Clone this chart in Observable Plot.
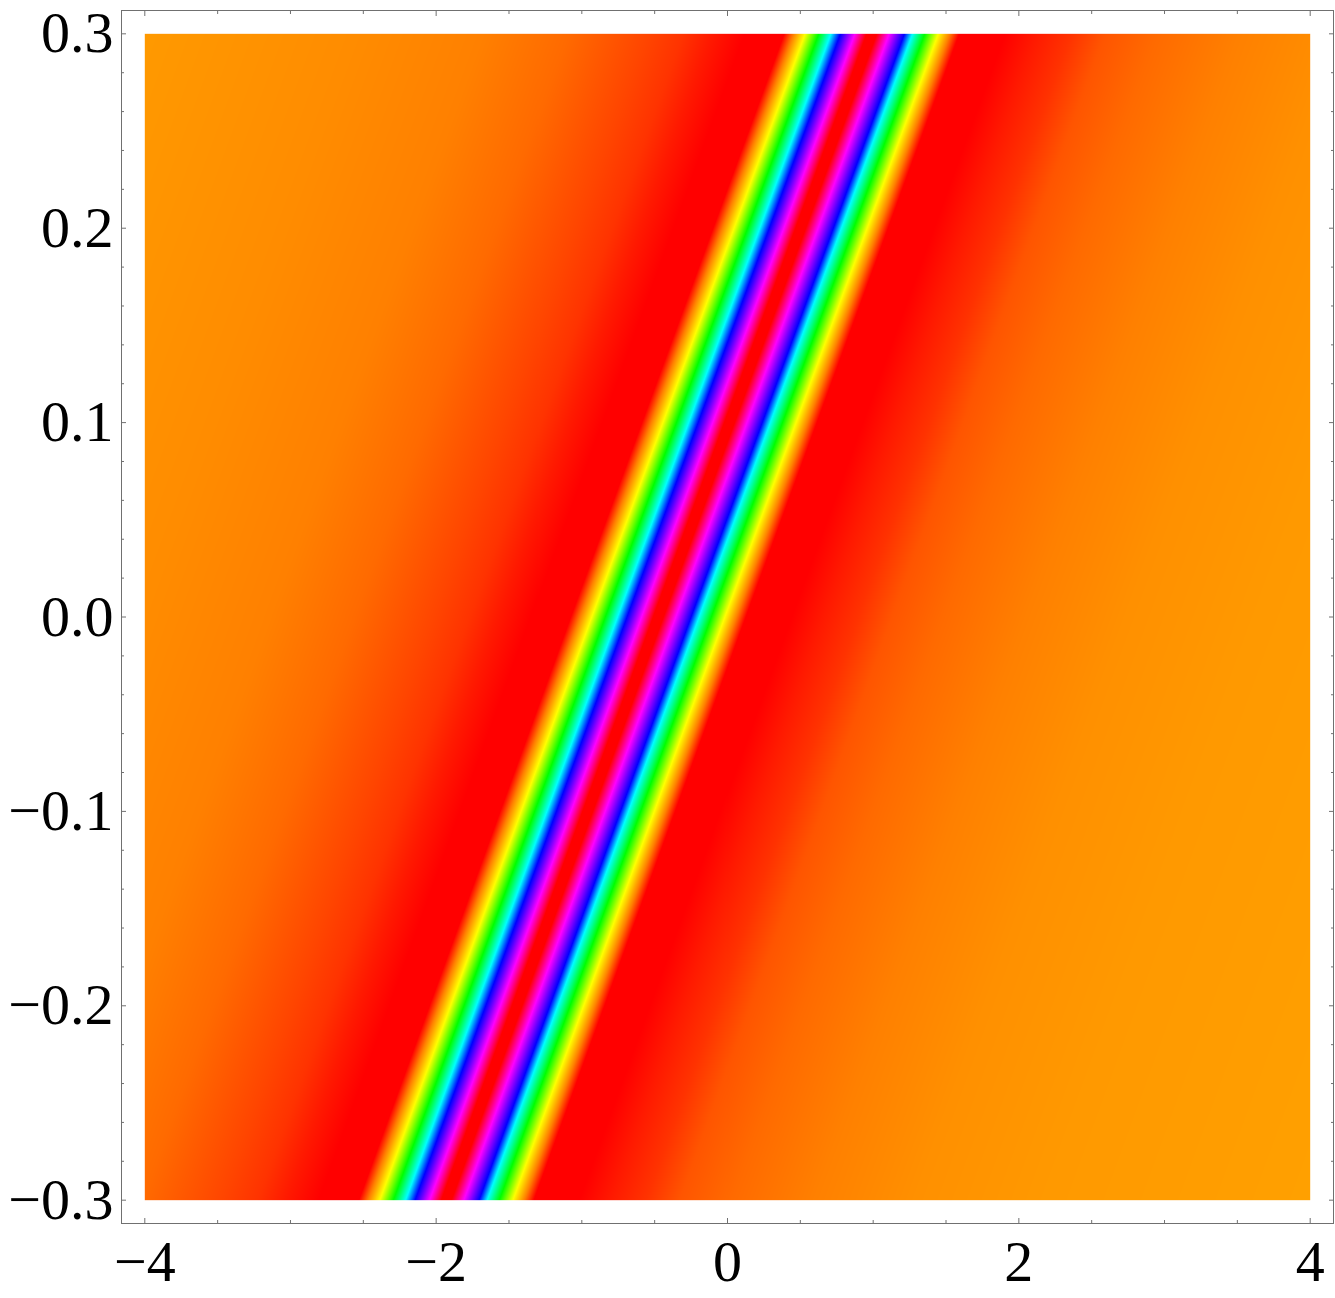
<!DOCTYPE html>
<html>
<head>
<meta charset="utf-8">
<script src="https://cdn.jsdelivr.net/npm/d3@7"></script>
<script src="https://cdn.jsdelivr.net/npm/@observablehq/plot@0.6"></script>
<style>
  html, body { margin: 0; padding: 0; background: #ffffff; }
  #chart svg { display: block; }
</style>
</head>
<body>
<div id="chart"></div>
<script>
// ---- data ----
// centre line of the soliton band (x at given y)
const centerY = [-0.3, 0, 0.3];
const centerX = [-1.93, -0.475, 0.99];

// horizontal offset from the centre line (x units) and the colour seen there
const profileOffset = [-5.2, -4.95, -3.54, -2.66, -2.08, -1.53, -1.29, -1.10, -0.87,
  -0.601, -0.536, -0.457, -0.364, -0.280, -0.215, -0.115, -0.035, 0, 0.035,
  0.120, 0.225, 0.280, 0.364, 0.457, 0.536, 0.601,
  0.91, 1.13, 1.37, 1.60, 1.95, 2.52, 3.21, 4.12, 5.91, 6.2];
const profileColor = ["#ff9b00", "#ff9900", "#ff8c00", "#ff8000", "#ff6a00", "#ff4500", "#ff3300", "#ff1a00", "#ff0000",
  "#ff0000", "#ff8000", "#ffff00", "#00ff00", "#00ffff", "#0000ff", "#ff00ff", "#ff0000", "#ff0000", "#ff0000",
  "#ff00ff", "#0000ff", "#00ffff", "#00ff00", "#ffff00", "#ff8000", "#ff0000",
  "#ff0000", "#ff1a00", "#ff3300", "#ff5500", "#ff6a00", "#ff8000", "#ff9000", "#ff9900", "#ffa000", "#ffa200"];

// ticks
const xTicks = [-4, -2, 0, 2, 4];
const xTickLabels = ["\u22124", "\u22122", "0", "2", "4"];
const xMinorTicks = [-3.5, -3, -2.5, -1.5, -1, -0.5, 0.5, 1, 1.5, 2.5, 3, 3.5];
const yTicks = [-0.3, -0.2, -0.1, 0, 0.1, 0.2, 0.3];
const yTickLabels = ["\u22120.3", "\u22120.2", "\u22120.1", "0.0", "0.1", "0.2", "0.3"];
const yMinorTicks = [-0.28, -0.26, -0.24, -0.22, -0.18, -0.16, -0.14, -0.12, -0.08, -0.06, -0.04, -0.02,
  0.02, 0.04, 0.06, 0.08, 0.12, 0.14, 0.16, 0.18, 0.22, 0.24, 0.26, 0.28];
const xPlotRange = [-4.16, 4.16];
const yPlotRange = [-0.312, 0.312];

// ---- chart ----
const center = d3.scaleLinear().domain(centerY).range(centerX);
const [xa, xb] = d3.extent(xTicks);
const [ya, yb] = d3.extent(yTicks);
const frameColor = "#707070";
const font = "'Liberation Serif', 'Times New Roman', serif";

const chart = Plot.plot({
  width: 1335,
  height: 1298,
  marginLeft: 121,
  marginRight: 2,
  marginTop: 10,
  marginBottom: 75,
  style: { fontFamily: font, background: "#ffffff" },
  x: { domain: xPlotRange },
  y: { domain: yPlotRange },
  color: { type: "linear", domain: profileOffset, range: profileColor, interpolate: "rgb", clamp: true },
  marks: [
    Plot.raster({
      fill: (x, y) => x - center(y),
      x1: xa, x2: xb, y1: ya, y2: yb,
      pixelSize: 1
    }),
    Plot.frame({ stroke: frameColor, strokeWidth: 1 }),
    // inward tick marks on all four sides
    Plot.axisX(xTicks, { anchor: "bottom", tickSize: -5, fill: "none", stroke: frameColor, label: null }),
    Plot.axisX(xTicks, { anchor: "top", tickSize: -5, fill: "none", stroke: frameColor, label: null }),
    Plot.axisX(xMinorTicks, { anchor: "bottom", tickSize: -3, fill: "none", stroke: frameColor, label: null }),
    Plot.axisX(xMinorTicks, { anchor: "top", tickSize: -3, fill: "none", stroke: frameColor, label: null }),
    Plot.axisY(yTicks, { anchor: "left", tickSize: -5, fill: "none", stroke: frameColor, label: null }),
    Plot.axisY(yTicks, { anchor: "right", tickSize: -5, fill: "none", stroke: frameColor, label: null }),
    Plot.axisY(yMinorTicks, { anchor: "left", tickSize: -3, fill: "none", stroke: frameColor, label: null }),
    Plot.axisY(yMinorTicks, { anchor: "right", tickSize: -3, fill: "none", stroke: frameColor, label: null }),
    // tick labels
    Plot.axisX(xTicks, {
      anchor: "bottom", tickSize: 0, tickPadding: 16, label: null,
      tickFormat: (d) => xTickLabels[xTicks.indexOf(d)],
      fontSize: 58, fill: "#000000", fontFamily: font
    }),
    Plot.axisY(yTicks, {
      anchor: "left", tickSize: 0, tickPadding: 8, label: null,
      tickFormat: (d) => yTickLabels[yTicks.indexOf(d)],
      fontSize: 58, fill: "#000000", fontFamily: font
    })
  ]
});
document.getElementById("chart").appendChild(chart);
</script>
</body>
</html>
